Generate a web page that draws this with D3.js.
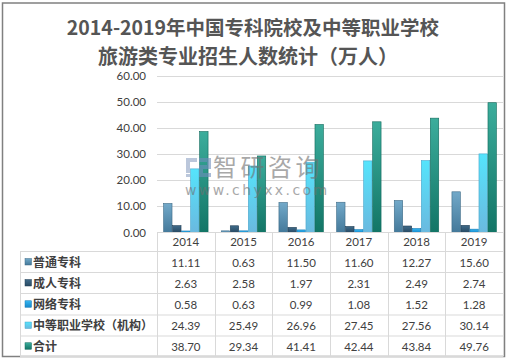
<!DOCTYPE html>
<html>
<head>
<meta charset="utf-8">
<script src="https://cdn.jsdelivr.net/npm/d3@7"></script>
<style>
  body { margin: 0; background: #fff; }
  svg { display: block; }
</style>
</head>
<body>
<svg id="chart" width="508" height="361"></svg>
<script>
const years = ['2014', '2015', '2016', '2017', '2018', '2019'];
const seriesNames = ['普通专科', '成人专科', '网络专科', '中等职业学校（机构）', '合计'];
const putong = [11.11, 0.63, 11.50, 11.60, 12.27, 15.60];
const chengren = [2.63, 2.58, 1.97, 2.31, 2.49, 2.74];
const wangluo = [0.58, 0.63, 0.99, 1.08, 1.52, 1.28];
const zhongdeng = [24.39, 25.49, 26.96, 27.45, 27.56, 30.14];
const heji = [38.70, 29.34, 41.41, 42.44, 43.84, 49.76];
const yTicks = [0, 10, 20, 30, 40, 50, 60];

const seriesValues = [putong, chengren, wangluo, zhongdeng, heji];
// top colour, bottom colour, outline
const colors = [
    ['#72a9c9', '#44799a', '#3c6a86'],
    ['#3f6b8a', '#284a63', '#223f55'],
    ['#35b6f0', '#1789cc', '#1478b4'],
    ['#55e4fc', '#6ab9df', '#4aa6cc'],
    ['#3cad9c', '#127566', '#106a5c']
];

const svg = d3.select('#chart');
const font = '"Noto Sans CJK SC", "Noto Sans", sans-serif';
const numFont = 'Lato, "Open Sans", sans-serif';
const textColor = '#404040';

const plotLeft = 157, plotRight = 503, plotTop = 76, plotBottom = 232.5;
const tableLeft = 20;
const rowLines = [251.5, 272.5, 293.5, 315, 336, 356.5];

const x = d3.scaleBand().domain(years).range([plotLeft, plotRight]);
const xs = d3.scaleBand().domain(d3.range(5)).range([0, x.bandwidth()]).paddingOuter(0.7);
const y = d3.scaleLinear().domain([0, 60]).range([plotBottom, plotTop]);

// gradients
const defs = svg.append('defs');
colors.forEach((c, i) => {
    const g = defs.append('linearGradient')
        .attr('id', 'grad' + i)
        .attr('x1', 0).attr('y1', 0).attr('x2', 0).attr('y2', 1);
    g.append('stop').attr('offset', '0%').attr('stop-color', c[0]);
    g.append('stop').attr('offset', '100%').attr('stop-color', c[1]);
});

// outer frame
svg.append('rect')
    .attr('x', 2.5).attr('y', 3).attr('width', 502).attr('height', 353.5)
    .attr('fill', 'none').attr('stroke', '#808080').attr('stroke-width', 1.5);

// title
svg.append('text')
    .attr('x', 253).attr('y', 35)
    .attr('text-anchor', 'middle')
    .attr('font-family', font).attr('font-weight', 'bold')
    .attr('font-size', 19.5).attr('fill', '#555')
    .text('2014-2019年中国专科院校及中等职业学校');
svg.append('text')
    .attr('x', 248).attr('y', 64)
    .attr('text-anchor', 'middle')
    .attr('font-family', font).attr('font-weight', 'bold')
    .attr('font-size', 20).attr('fill', '#555')
    .text('旅游类专业招生人数统计（万人）');

// gridlines + y labels
svg.append('g').selectAll('line')
    .data(yTicks.filter(d => d > 0))
    .enter().append('line')
    .attr('x1', plotLeft).attr('x2', plotRight)
    .attr('y1', d => Math.round(y(d)) + 0.5).attr('y2', d => Math.round(y(d)) + 0.5)
    .attr('stroke', '#d9d9d9').attr('stroke-width', 1);

svg.append('g').selectAll('text')
    .data(yTicks)
    .enter().append('text')
    .attr('x', 146).attr('y', d => y(d) + 4)
    .attr('text-anchor', 'end')
    .attr('font-family', numFont).attr('font-size', 11.5)
    .attr('fill', textColor)
    .text(d => d3.format('.2f')(d));

// bars
seriesValues.forEach((vals, si) => {
    svg.append('g').selectAll('rect')
        .data(vals)
        .enter().append('rect')
        .attr('x', (d, i) => x(years[i]) + xs(si) + 0.3)
        .attr('width', xs.bandwidth() - 0.6)
        .attr('y', d => y(d))
        .attr('height', d => y(0) - y(d))
        .attr('fill', `url(#grad${si})`)
        .attr('stroke', colors[si][2]).attr('stroke-width', 0.6);
});

// watermark
const wm = svg.append('g').attr('opacity', 0.6);
wm.append('path')
    .attr('d', 'M186,158 h11 v4 h-7 v11 h-4 z M186,174 h4 v3 h-4 z')
    .attr('fill', '#8ea3c4');
wm.append('path')
    .attr('d', 'M199,158 h12 v11 h-8 v4 h8 v4 h-12 v-12 h8 v-3 h-8 z')
    .attr('fill', '#6f8fbd');
wm.append('text')
    .attr('x', 213).attr('y', 176)
    .attr('font-family', font).attr('font-size', 24)
    .attr('letter-spacing', 3.5)
    .attr('fill', '#707070')
    .text('智研咨询');
wm.append('text')
    .attr('x', 185).attr('y', 195)
    .attr('font-family', '"DejaVu Sans", sans-serif').attr('font-size', 14)
    .attr('letter-spacing', 2.4)
    .attr('fill', '#707070')
    .text('www.chyxx.com');

// table lines
const tbl = svg.append('g').attr('stroke', '#d9d9d9').attr('stroke-width', 1);
tbl.append('line')
    .attr('x1', plotLeft).attr('x2', plotRight)
    .attr('y1', plotBottom).attr('y2', plotBottom);
rowLines.forEach(ry => {
    tbl.append('line')
        .attr('x1', tableLeft).attr('x2', plotRight)
        .attr('y1', ry).attr('y2', ry);
});
tbl.append('line')
    .attr('x1', tableLeft + 0.5).attr('x2', tableLeft + 0.5)
    .attr('y1', rowLines[0]).attr('y2', rowLines[5]);
years.concat(['end']).forEach((yr, i) => {
    const xx = Math.round(plotLeft + i * x.bandwidth()) + 0.5;
    tbl.append('line')
        .attr('x1', xx).attr('x2', xx)
        .attr('y1', plotBottom).attr('y2', rowLines[5]);
});

// year header
svg.append('g').selectAll('text')
    .data(years)
    .enter().append('text')
    .attr('x', d => x(d) + x.bandwidth() / 2)
    .attr('y', 246)
    .attr('text-anchor', 'middle')
    .attr('font-family', numFont).attr('font-size', 11.5)
    .attr('fill', textColor)
    .text(d => d);

// rows
seriesNames.forEach((name, si) => {
    const cy = (rowLines[si] + rowLines[si + 1]) / 2;
    svg.append('rect')
        .attr('x', 25).attr('y', cy - 3.5).attr('width', 6.5).attr('height', 6.5)
        .attr('fill', `url(#grad${si})`)
        .attr('stroke', colors[si][2]).attr('stroke-width', 0.5);
    svg.append('text')
        .attr('x', 33).attr('y', cy + 4.5)
        .attr('font-family', font).attr('font-weight', 'bold').attr('font-size', 12)
        .attr('fill', textColor)
        .text(name);
    svg.append('g').selectAll('text')
        .data(seriesValues[si])
        .enter().append('text')
        .attr('x', (d, i) => x(years[i]) + x.bandwidth() / 2)
        .attr('y', cy + 4.5)
        .attr('text-anchor', 'middle')
        .attr('font-family', numFont).attr('font-size', 11.5)
        .attr('fill', textColor)
        .text(d => d3.format('.2f')(d));
});
</script>
</body>
</html>
